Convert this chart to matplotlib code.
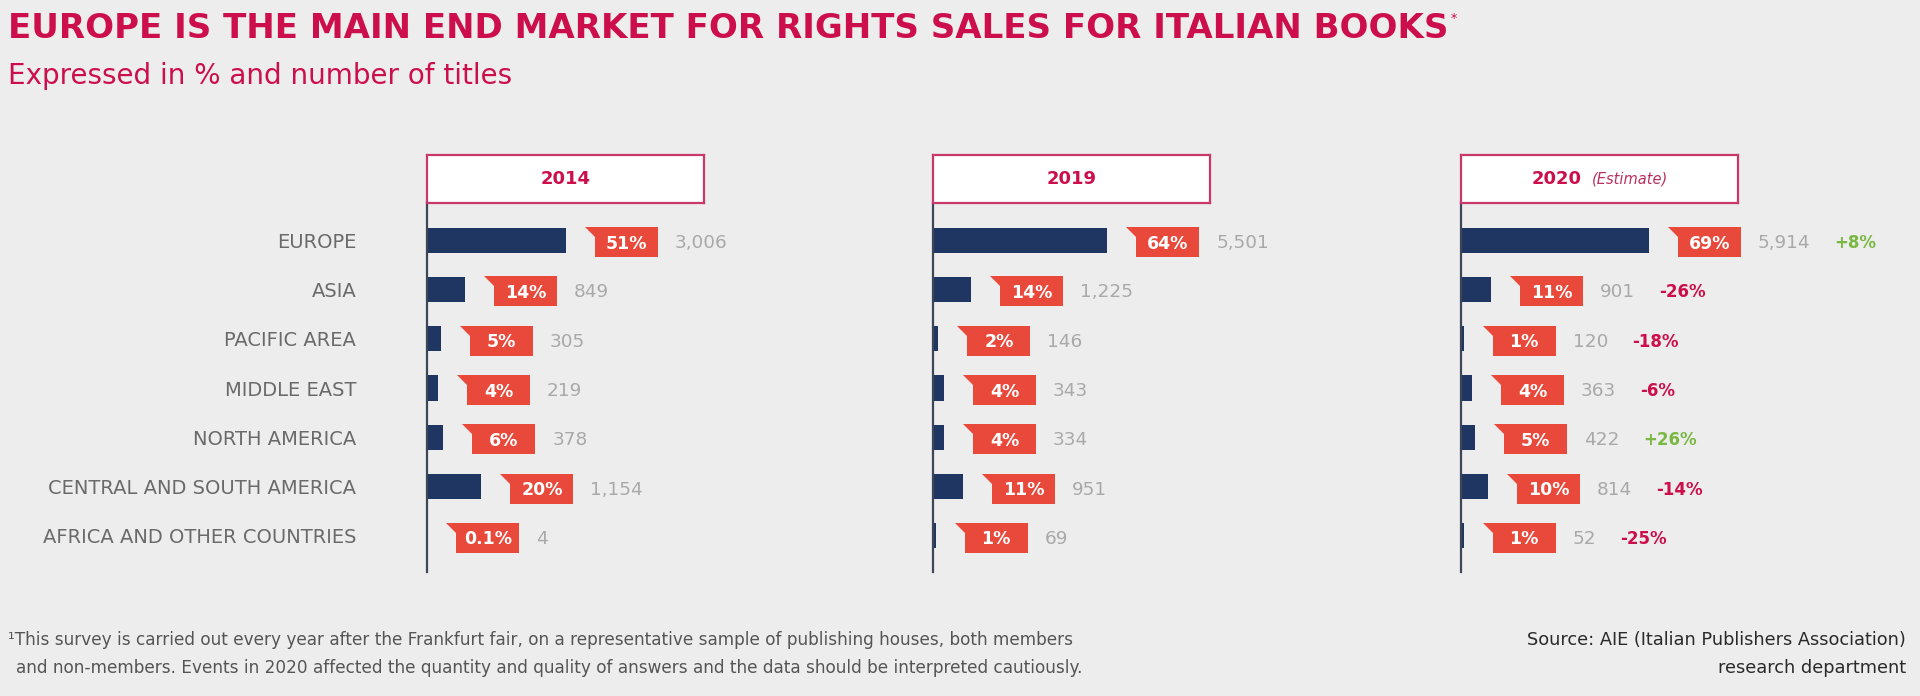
import matplotlib.pyplot as plt
from matplotlib.patches import Polygon
from matplotlib.text import Annotation

# Data
regions = ['EUROPE', 'ASIA', 'PACIFIC AREA', 'MIDDLE EAST', 'NORTH AMERICA',
           'CENTRAL AND SOUTH AMERICA', 'AFRICA AND OTHER COUNTRIES']
years = ['2014', '2019', '2020']
pct_2014 = [51, 14, 5, 4, 6, 20, 0.1]
titles_2014 = [3006, 849, 305, 219, 378, 1154, 4]
pct_2019 = [64, 14, 2, 4, 4, 11, 1]
titles_2019 = [5501, 1225, 146, 343, 334, 951, 69]
pct_2020 = [69, 11, 1, 4, 5, 10, 1]
titles_2020 = [5914, 901, 120, 363, 422, 814, 52]
change_2020 = [8, -26, -18, -6, 26, -14, -25]

BG = '#ededed'
NAVY = '#1f3562'
TAG = '#e8493b'
CRIMSON = '#cc0f4c'
GREEN = '#7ab844'
GREY_NUM = '#a9a9a9'
GREY_LAB = '#6a6a6a'

W, H = 1920, 696
PX_PER_PCT = 2.72      # horizontal scale shared by the three panels
ROW_PX = 49.3


def fx(x):
    return x / W


def fy(y):
    return 1 - y / H


fig = plt.figure(figsize=(W / 100, H / 100), dpi=100, facecolor=BG)

# titles
t = fig.text(fx(8), fy(38), 'EUROPE IS THE MAIN END MARKET FOR RIGHTS SALES FOR ITALIAN BOOKS',
             fontsize=24.5, fontweight='bold', color=CRIMSON, va='baseline', ha='left')
fig.add_artist(Annotation('*', xy=(1, 1), xycoords=t, xytext=(2, 0), textcoords='offset pixels',
                          fontsize=9, color=CRIMSON, va='top', ha='left'))
fig.text(fx(8), fy(84), 'Expressed in % and number of titles',
         fontsize=20, color=CRIMSON, va='baseline', ha='left')

panels = [(pct_2014, titles_2014, None), (pct_2019, titles_2019, None),
          (pct_2020, titles_2020, change_2020)]
panel_left = [427, 933, 1461]
header_w = 277
axis_top, axis_bottom = 202, 572
ax_w = 430
y_top = -(240 - axis_top) / ROW_PX
y_bot = 6 + (axis_bottom - 536) / ROW_PX

for k, (pct, nums, chg) in enumerate(panels):
    x0 = panel_left[k]
    ax = fig.add_axes([fx(x0), fy(axis_bottom), ax_w / W, (axis_bottom - axis_top) / H])
    ax.set_facecolor('none')
    ax.set_xlim(0, ax_w / PX_PER_PCT)
    ax.set_ylim(y_bot, y_top)
    ax.barh(range(len(regions)), pct, height=25 / ROW_PX, color=NAVY)
    for s in ['top', 'right', 'bottom']:
        ax.spines[s].set_visible(False)
    ax.spines['left'].set_color('#3c4657')
    ax.spines['left'].set_linewidth(1.6)
    ax.set_xticks([])
    if k == 0:
        ax.set_yticks(range(len(regions)), labels=regions)
        ax.tick_params(axis='y', length=0, pad=51, labelsize=14, labelcolor=GREY_LAB)
    else:
        ax.set_yticks([])

    ux = 1 / PX_PER_PCT
    uy = 1 / ROW_PX
    for i, p in enumerate(pct):
        xs = p + 19 * ux
        xl = xs + 10 * ux
        xr = xl + 63 * ux
        top = i - 13 * uy
        bot = i + 17 * uy
        mid = i - 3 * uy
        ax.add_patch(Polygon([(xs, top), (xr, top), (xr, bot), (xl, bot), (xl, mid)],
                             closed=True, facecolor=TAG, edgecolor='none'))
        ax.text((xl + xr) / 2, i + 3.5 * uy, f'{p:g}%', color='white', fontsize=12.5,
                fontweight='bold', ha='center', va='center')
        nt = ax.text(xr + 17 * ux, i + 3 * uy, f'{nums[i]:,}', color=GREY_NUM, fontsize=13.3,
                     ha='left', va='center')
        if chg is not None:
            c = chg[i]
            ax.annotate(f'{c:+d}%', xy=(1, 0.5), xycoords=nt, xytext=(24, 0),
                        textcoords='offset pixels', fontsize=12, fontweight='bold',
                        color=GREEN if c > 0 else CRIMSON, ha='left', va='center')

    # header box
    hax = fig.add_axes([fx(x0), fy(203), header_w / W, 48 / H])
    hax.set_facecolor('white')
    hax.set_xticks([])
    hax.set_yticks([])
    for s in hax.spines.values():
        s.set_color('#c8386a')
        s.set_linewidth(1.6)
    if k < 2:
        hax.text(0.5, 0.5, years[k], ha='center', va='center', fontsize=13,
                 fontweight='bold', color=CRIMSON)
    else:
        yt = hax.text(0.347, 0.5, years[k], ha='center', va='center', fontsize=13,
                      fontweight='bold', color=CRIMSON)
        hax.annotate('(Estimate)', xy=(1, 0.5), xycoords=yt, xytext=(10, 0),
                     textcoords='offset pixels', fontsize=10.5, style='italic',
                     color='#b8305f', ha='left', va='center')

# footnote and source
fig.text(fx(8), fy(645), '\u00b9This survey is carried out every year after the Frankfurt fair, '
         'on a representative sample of publishing houses, both members',
         fontsize=12.2, color='#555555', ha='left', va='baseline')
fig.text(fx(16), fy(673), 'and non-members. Events in 2020 affected the quantity and quality '
         'of answers and the data should be interpreted cautiously.',
         fontsize=12.2, color='#555555', ha='left', va='baseline')
fig.text(fx(1906), fy(645), 'Source: AIE (Italian Publishers Association)',
         fontsize=12.8, color='#2a2a2a', ha='right', va='baseline')
fig.text(fx(1906), fy(673), 'research department',
         fontsize=12.8, color='#2a2a2a', ha='right', va='baseline')

fig.savefig('out.png', dpi=100, facecolor=BG)
